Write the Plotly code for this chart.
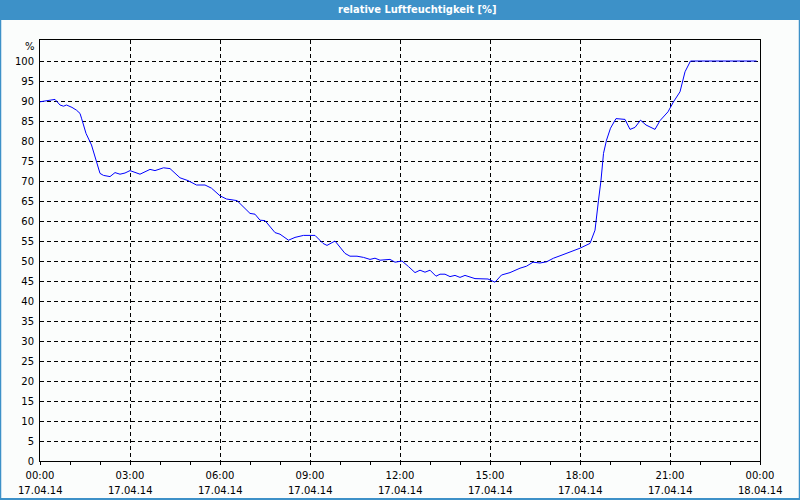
import plotly.graph_objects as go

times = ["00:00","00:10","00:20","00:30","00:40","00:47","00:53","01:04","01:13","01:20","01:23","01:32","01:43","01:53",
         "02:00","02:07","02:20","02:30","02:40","02:50","03:00","03:20","03:40","03:50","04:07","04:20","04:40","04:56",
         "05:13","05:30","05:43","06:00","06:13","06:34","07:00","07:10","07:20","07:30","07:50","08:00","08:17","08:30",
         "08:47","09:10","09:26","09:34","09:50","10:10","10:20","10:34","10:47","11:00","11:10","11:20","11:40","11:50",
         "12:04","12:17","12:30","12:40","12:50","13:00","13:12","13:20","13:30","13:40","13:50","14:00","14:10","14:20",
         "14:30","14:56","15:10","15:23","15:40","16:00","16:13","16:26","16:40","16:53","17:07","17:20","18:00","18:20",
         "18:30","18:37","18:42","18:47","18:53","19:01","19:12","19:30","19:40","19:50","20:01","20:12","20:30","20:40",
         "20:56","21:07","21:20","21:30","21:41","23:53"]
humidity = [89.8,90.0,90.1,90.4,89.0,88.7,89.0,88.4,87.7,86.9,85.7,81.9,79.0,74.8,
            71.9,71.4,71.1,72.1,71.7,72.0,72.6,71.7,72.9,72.6,73.3,73.1,70.8,70.1,
            69.0,69.0,68.2,66.3,65.5,65.1,61.9,61.7,60.2,60.1,57.1,56.7,55.2,55.9,
            56.4,56.4,54.4,53.9,55.0,51.9,51.2,51.2,50.9,50.4,50.7,50.2,50.4,49.7,
            50.0,48.6,47.1,47.7,47.2,47.7,46.2,46.7,46.7,46.1,46.4,45.9,46.4,46.0,
            45.6,45.5,44.7,46.5,47.1,48.2,48.7,49.7,49.5,49.8,50.7,51.3,53.2,54.4,
            57.7,65.2,70.2,76.9,80.2,83.2,85.6,85.4,82.9,83.4,85.2,84.0,82.9,85.1,
            87.3,89.8,92.3,97.3,100.0,100.0]

day = "2014-04-17"
x_vals = [f"{day} {t}" for t in times]

tick_vals = ["2014-04-17 00:00","2014-04-17 03:00","2014-04-17 06:00","2014-04-17 09:00","2014-04-17 12:00",
             "2014-04-17 15:00","2014-04-17 18:00","2014-04-17 21:00","2014-04-18 00:00"]
tick_times = ["00:00","03:00","06:00","09:00","12:00","15:00","18:00","21:00","00:00"]
tick_dates = ["17.04.14"]*8 + ["18.04.14"]
y_ticks = list(range(0, 101, 5))

title_text = "relative Luftfeuchtigkeit [%]"

W, H = 800, 500
ml, mr, mt, mb = 40, 40, 40, 39
pw, ph = W - ml - mr, H - mt - mb

def px_x(p):
    return (p - ml) / pw

def px_y(p):
    return 1 - (p - mt) / ph

fig = go.Figure()
fig.add_trace(go.Scatter(x=x_vals, y=humidity, mode="lines",
                         line=dict(color="#0000ff", width=1), showlegend=False))

font = dict(family="DejaVu Sans", size=10, color="#000000")

fig.update_layout(
    width=W, height=H,
    margin=dict(l=ml, r=mr, t=mt, b=mb, pad=0, autoexpand=False),
    paper_bgcolor="#fbfdfc", plot_bgcolor="#fbfdfc",
    font=font,
    xaxis=dict(type="date", range=["2014-04-17 00:00", "2014-04-18 00:00"],
               tickmode="array", tickvals=tick_vals, ticktext=tick_times,
               showgrid=True, gridcolor="#000000", gridwidth=1, griddash="4px,3px",
               showline=True, linecolor="#000000", linewidth=1, mirror=True,
               ticks="outside", ticklen=3, tickcolor="#000000", tickwidth=1,
               minor=dict(dtick=3600000, ticks="outside", ticklen=3, tickcolor="#000000", showgrid=False),
               zeroline=False, fixedrange=True, tickfont=font, automargin=False, ticklabelstandoff=2),
    yaxis=dict(range=[0, 105.25], tickmode="array", tickvals=y_ticks,
               ticktext=[str(v) for v in y_ticks],
               showgrid=True, gridcolor="#000000", gridwidth=1, griddash="4px,3px",
               showline=True, linecolor="#000000", linewidth=1, mirror=True,
               ticks="", zeroline=False, fixedrange=True, tickfont=font, ticklabelstandoff=3,
               automargin=False),
)

shapes = [
    dict(type="rect", xref="paper", yref="paper", x0=px_x(0), x1=px_x(W), y0=px_y(20), y1=px_y(0),
         fillcolor="#3d91c8", line=dict(width=0), layer="above"),
    dict(type="line", xref="paper", yref="paper", x0=px_x(0.5), x1=px_x(0.5), y0=px_y(H), y1=px_y(20),
         line=dict(color="#3d91c8", width=1.5)),
    dict(type="line", xref="paper", yref="paper", x0=px_x(W - 0.5), x1=px_x(W - 0.5), y0=px_y(H), y1=px_y(20),
         line=dict(color="#3d91c8", width=1.5)),
    dict(type="line", xref="paper", yref="paper", x0=px_x(0), x1=px_x(W), y0=px_y(H - 1), y1=px_y(H - 1),
         line=dict(color="#3d91c8", width=2)),
]
fig.update_layout(shapes=shapes)

for tv, td in zip(tick_vals, tick_dates):
    fig.add_annotation(text=td, x=tv, xref="x", yref="paper", y=px_y(490),
                       xanchor="center", yanchor="middle", showarrow=False, font=font)

fig.add_annotation(text=f"<b>{title_text}</b>", xref="paper", yref="paper", x=px_x(417), y=px_y(10),
                   xanchor="center", yanchor="middle", showarrow=False,
                   font=dict(family="DejaVu Sans Condensed", size=11, color="#ffffff"))
fig.add_annotation(text="%", xref="paper", yref="paper", x=px_x(37), y=px_y(46),
                   xanchor="right", yanchor="middle", showarrow=False, font=font)

fig.write_html("out.html")
